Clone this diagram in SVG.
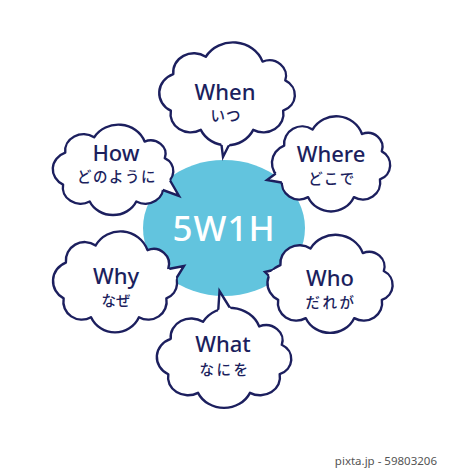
<svg xmlns="http://www.w3.org/2000/svg" xmlns:xlink="http://www.w3.org/1999/xlink" width="450" height="469" viewBox="0 0 450 469">
<style>
.cf{fill:#fff;stroke:none}
.cl{fill:none;stroke:#1c1f5e;stroke-width:2.4;stroke-linejoin:round}
.tail{fill:#fff;stroke:#1c1f5e;stroke-width:2.4;stroke-linejoin:miter;stroke-miterlimit:10}
.en{font-family:"Noto Sans","Liberation Sans",sans-serif;font-weight:500;font-size:22px;fill:#1c1f5e;text-anchor:middle}
.jp{font-family:"Noto Sans CJK JP",sans-serif;font-weight:500;font-size:14.5px;fill:#1c1f5e;text-anchor:middle}
.ctr{font-family:"Noto Sans","Liberation Sans",sans-serif;font-weight:500;font-size:35px;fill:#fff;text-anchor:middle;letter-spacing:1px}
.wm{font-family:"Noto Sans","Liberation Sans",sans-serif;font-size:11.5px;fill:#555;text-anchor:end}
</style>
<defs>
<path id="cloud" vector-effect="non-scaling-stroke" d="M-45.9,-18.5 A17.7,17.7 0 0 1 -18.1,-34.8 A26.8,26.8 0 0 1 30.4,-30.3 A14.4,14.4 0 0 1 49.8,-12.7 A15.6,15.6 0 0 1 48,15.6 A17.2,17.2 0 0 1 22.4,33.5 A24.6,24.6 0 0 1 -22.4,33.5 A17.2,17.2 0 0 1 -48,15.6 A18.8,18.8 0 0 1 -45.9,-18.5Z"/>
<mask id="m-when" maskUnits="userSpaceOnUse" x="0" y="0" width="450" height="469"><rect width="450" height="469" fill="#fff"/><path d="M220,133 L223,157 L235,133Z" fill="#000"/></mask>
<mask id="m-how" maskUnits="userSpaceOnUse" x="0" y="0" width="450" height="469"><rect width="450" height="469" fill="#fff"/><path d="M164,170 L179,196 L152,186Z" fill="#000"/></mask>
<mask id="m-where" maskUnits="userSpaceOnUse" x="0" y="0" width="450" height="469"><rect width="450" height="469" fill="#fff"/><path d="M290,163 L267,180 L290,184Z" fill="#000"/></mask>
<mask id="m-why" maskUnits="userSpaceOnUse" x="0" y="0" width="450" height="469"><rect width="450" height="469" fill="#fff"/><path d="M158,271 L184,266 L166,295Z" fill="#000"/></mask>
<mask id="m-who" maskUnits="userSpaceOnUse" x="0" y="0" width="450" height="469"><rect width="450" height="469" fill="#fff"/><path d="M294,265 L265,272 L285,292Z" fill="#000"/></mask>
<mask id="m-what" maskUnits="userSpaceOnUse" x="0" y="0" width="450" height="469"><rect width="450" height="469" fill="#fff"/><path d="M218,314 L219.5,291 L235,316Z" fill="#000"/></mask>
</defs>
<rect width="450" height="469" fill="#fff"/>

<g id="center">
<ellipse cx="224" cy="228" rx="81" ry="68" fill="#62c4de"/>
<text class="ctr" x="224" y="241">5W1H</text>
</g>

<g id="node-when">
<path class="tail" d="M220,133 L223,157 L235,133"/>
<use href="#cloud" class="cf" transform="translate(227,94) scale(1.17,1.07)"/>
<g mask="url(#m-when)"><use href="#cloud" class="cl" transform="translate(227,94) scale(1.17,1.07)"/></g>
<text class="en" x="225" y="100">When</text>
<text class="jp" x="226" y="121" letter-spacing="1">いつ</text>
</g>

<g id="node-how">
<path class="tail" d="M164,170 L179,196 L152,186"/>
<use href="#cloud" class="cf" transform="translate(113,170) scale(1.04,0.94)"/>
<g mask="url(#m-how)"><use href="#cloud" class="cl" transform="translate(113,170) scale(1.04,0.94)"/></g>
<text class="en" x="116" y="161">How</text>
<text class="jp" x="117" y="182" letter-spacing="1.5">どのように</text>
</g>

<g id="node-where">
<path class="tail" d="M290,163 L267,180 L290,184"/>
<use href="#cloud" class="cf" transform="translate(331,164) scale(1.02,0.99)"/>
<g mask="url(#m-where)"><use href="#cloud" class="cl" transform="translate(331,164) scale(1.02,0.99)"/></g>
<text class="en" x="331" y="162">Where</text>
<text class="jp" x="332" y="184" letter-spacing="1.5">どこで</text>
</g>

<g id="node-why">
<path class="tail" d="M158,271 L184,266 L166,295"/>
<use href="#cloud" class="cf" transform="translate(115,282) scale(1.07,1.05)"/>
<g mask="url(#m-why)"><use href="#cloud" class="cl" transform="translate(115,282) scale(1.07,1.05)"/></g>
<text class="en" x="116" y="284">Why</text>
<text class="jp" x="116" y="306">なぜ</text>
</g>

<g id="node-who">
<path class="tail" d="M294,265 L265,272 L285,292"/>
<use href="#cloud" class="cf" transform="translate(330,284) scale(1.08,1.02)"/>
<g mask="url(#m-who)"><use href="#cloud" class="cl" transform="translate(330,284) scale(1.08,1.02)"/></g>
<text class="en" x="330" y="286">Who</text>
<text class="jp" x="331" y="308" letter-spacing="2.5">だれが</text>
</g>

<g id="node-what">
<path class="tail" d="M218,314 L219.5,291 L235,316"/>
<use href="#cloud" class="cf" transform="translate(224,358) scale(1.16,1.04)"/>
<g mask="url(#m-what)"><use href="#cloud" class="cl" transform="translate(224,358) scale(1.16,1.04)"/></g>
<text class="en" x="223" y="352">What</text>
<text class="jp" x="225" y="375" letter-spacing="2.5">なにを</text>
</g>

<text class="wm" x="437" y="465">pixta.jp - 59803206</text>
</svg>
